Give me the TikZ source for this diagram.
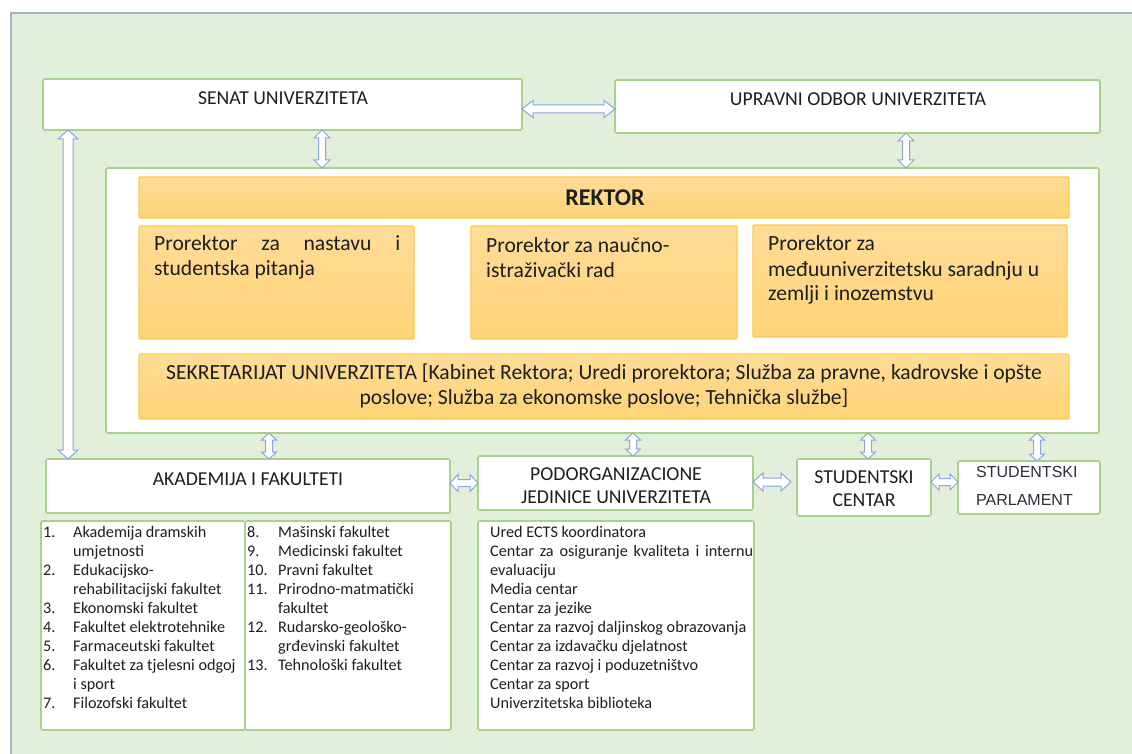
\documentclass[tikz,border=0pt]{standalone}
\usepackage{fontspec}
\usetikzlibrary{calc}
\newfontfamily\calfont{Carlito}
\newfontfamily\arialfont{Liberation Sans}
\definecolor{bggreen}{HTML}{E2EFDA}
\definecolor{framec}{HTML}{9FB6CA}
\definecolor{boxgreen}{HTML}{A9D18E}
\definecolor{ortop}{HTML}{FFDC98}
\definecolor{orbot}{HTML}{FFD476}
\definecolor{orline}{HTML}{FFCC47}
\definecolor{arrline}{HTML}{8BA7DA}
\definecolor{txt}{HTML}{1E1E1E}
\definecolor{sptxt}{HTML}{2E2E3A}

\newcommand\rect[6]{\node[#1, minimum width={(#5-#3)*1pt}, minimum height={(#6-#4)*1pt}, anchor=north west] (#2) at (#3,#4) {};}
% horizontal double block arrow: #1 left point, #2 right point, #3 y, #4 shaft half, #5 head half, #6 head length
\newcommand\harrow[6]{\draw[arr] let \p1=(#1), \p2=(#2), \p3=(0,#3) in
 (\x1,\y3) -- (\x1+#6pt,\y3+#5pt) -- (\x1+#6pt,\y3+#4pt) -- (\x2-#6pt,\y3+#4pt) -- (\x2-#6pt,\y3+#5pt) -- (\x2,\y3)
 -- (\x2-#6pt,\y3-#5pt) -- (\x2-#6pt,\y3-#4pt) -- (\x1+#6pt,\y3-#4pt) -- (\x1+#6pt,\y3-#5pt) -- cycle;}
% vertical double block arrow: #1 top point, #2 bottom point, #3 x
\newcommand\varrow[6]{\draw[arr] let \p1=(#1), \p2=(#2), \p3=(#3,0) in
 (\x3,\y1) -- (\x3+#5pt,\y1-#6pt) -- (\x3+#4pt,\y1-#6pt) -- (\x3+#4pt,\y2+#6pt) -- (\x3+#5pt,\y2+#6pt) -- (\x3,\y2)
 -- (\x3-#5pt,\y2+#6pt) -- (\x3-#4pt,\y2+#6pt) -- (\x3-#4pt,\y1-#6pt) -- (\x3-#5pt,\y1-#6pt) -- cycle;}

\begin{document}
\begin{tikzpicture}[x=1pt,y=-1pt,
 box/.style={draw=boxgreen, line width=1.6pt, fill=white, rounded corners=1.5pt, inner sep=0pt, outer sep=0pt},
 obox/.style={draw=orline, line width=1.2pt, top color=ortop, bottom color=orbot, rounded corners=1pt, inner sep=0pt, outer sep=0pt},
 arr/.style={draw=arrline, line width=1pt, fill=white, line join=miter},
 htext/.style={font=\calfont\fontsize{19.7}{23}\selectfont, text=txt, inner sep=0pt, anchor=base},
 ptext/.style={font=\calfont\fontsize{21.6}{25}\selectfont, text=txt, inner sep=0pt, anchor=base west},
 ltext/.style={font=\calfont\fontsize{16.2}{19.07}\selectfont, text=txt, inner sep=0pt, anchor=base west}]
\useasboundingbox (0,0) rectangle (1132,754);
\fill[bggreen] (11,13) rectangle (1132,754);
\draw[framec, line width=1.5pt] (11,754) -- (11,13) -- (1132,13);

\rect{box}{senat}{43}{79}{522}{130}
\rect{box}{upravni}{615}{80}{1100}{133}
\rect{box}{inner}{106}{168}{1099}{433}
\rect{obox}{rektor}{139}{177}{1069}{218}
\rect{obox}{pro1}{139}{226}{414}{339}
\rect{obox}{pro2}{471}{226}{737}{339}
\rect{obox}{pro3}{753}{225}{1067}{337}
\rect{obox}{sekr}{139}{354}{1069}{419}
\rect{box}{akad}{46}{459}{450}{513}
\rect{box}{podorg}{478}{456}{753}{510}
\rect{box}{sc}{797}{459}{931}{516}
\rect{box}{sp}{958}{461}{1100}{514}
\rect{box}{faklistL}{41}{521}{245}{730}
\rect{box}{faklistR}{245}{521}{451}{730}
\rect{box}{podlist}{478}{521}{754}{730}

\node[htext] (tsenat) at (283,105) {SENAT UNIVERZITETA};
\node[htext] (tupravni) at (858,106) {UPRAVNI ODBOR UNIVERZITETA};
\node[htext, font=\calfont\bfseries\fontsize{24}{28}\selectfont] (trektor) at (605,206) {REKTOR};
\node[ptext] (tpro1) at (154,250) {\begin{tabular}[t]{@{}l@{}}\makebox[246pt][s]{Prorektor za nastavu i}\\ studentska pitanja\end{tabular}};
\node[ptext] (tpro2) at (486,252) {\begin{tabular}[t]{@{}l@{}}Prorektor za naučno-\\ istraživački rad\end{tabular}};
\node[ptext] (tpro3) at (768,251) {\begin{tabular}[t]{@{}l@{}}Prorektor za\\ međuuniverzitetsku saradnju u\\ zemlji i inozemstvu\end{tabular}};
\node[ptext, anchor=base] (tsekr) at (604,379) {\begin{tabular}[t]{@{}c@{}}SEKRETARIJAT UNIVERZITETA [Kabinet Rektora; Uredi prorektora; Služba za pravne, kadrovske i opšte\\ poslove; Služba za ekonomske poslove; Tehnička službe]\end{tabular}};
\node[htext] (takad) at (248,485) {AKADEMIJA I FAKULTETI};
\node[htext] (tpodorg) at (616,480) {\begin{tabular}[t]{@{}c@{}}PODORGANIZACIONE\\ JEDINICE UNIVERZITETA\end{tabular}};
\node[htext] (tsc) at (864,483) {\begin{tabular}[t]{@{}c@{}}STUDENTSKI\\ CENTAR\end{tabular}};
\node[inner sep=0pt, anchor=base west, text=sptxt, font=\arialfont\fontsize{16}{28}\selectfont] (tsp) at (976,477) {\begin{tabular}[t]{@{}l@{}}STUDENTSKI\\ PARLAMENT\end{tabular}};

\node[ltext] (tfakL) at (43,537) {\begin{tabular}[t]{@{}p{30pt}@{}l@{}}
1.& Akademija dramskih\\
 & umjetnosti\\
2.& Edukacijsko-\\
 & rehabilitacijski fakultet\\
3.& Ekonomski fakultet\\
4.& Fakultet elektrotehnike\\
5.& Farmaceutski fakultet\\
6.& Fakultet za tjelesni odgoj\\
 & i sport\\
7.& Filozofski fakultet\end{tabular}};
\node[ltext] (tfakR) at (247,537) {\begin{tabular}[t]{@{}p{31pt}@{}l@{}}
8.& Mašinski fakultet\\
9.& Medicinski fakultet\\
10.& Pravni fakultet\\
11.& Prirodno-matmatički\\
 & fakultet\\
12.& Rudarsko-geološko-\\
 & grđevinski fakultet\\
13.& Tehnološki fakultet\end{tabular}};
\node[ltext] (tpodlist) at (490,537) {\begin{tabular}[t]{@{}l@{}}
Ured ECTS koordinatora\\
\makebox[263pt][s]{Centar za osiguranje kvaliteta i internu}\\
evaluaciju\\
Media centar\\
Centar za jezike\\
Centar za razvoj daljinskog obrazovanja\\
Centar za izdavačku djelatnost\\
Centar za razvoj i poduzetništvo\\
Centar za sport\\
Univerzitetska biblioteka\end{tabular}};

\harrow{senat.east}{upravni.west}{109}{4}{8.5}{11}
\varrow{senat.south}{inner.north}{322}{3.5}{8}{8}
\varrow{upravni.south}{inner.north}{906}{3.5}{8}{8}
\varrow{senat.south}{akad.north}{68}{5}{10}{9}
\varrow{inner.south}{akad.north}{269}{3.5}{7.5}{7}
\varrow{inner.south}{podorg.north}{633}{3.5}{7.5}{7}
\varrow{inner.south}{sc.north}{868}{3.5}{7.5}{7}
\varrow{inner.south}{sp.north}{1037}{3.5}{7.5}{7}
\harrow{akad.east}{podorg.west}{483}{3.5}{8.5}{8}
\harrow{podorg.east}{[xshift=-6pt]sc.west}{482}{4}{9}{10}
\harrow{sc.east}{sp.west}{482}{3.5}{8}{8}
\end{tikzpicture}
\end{document}
